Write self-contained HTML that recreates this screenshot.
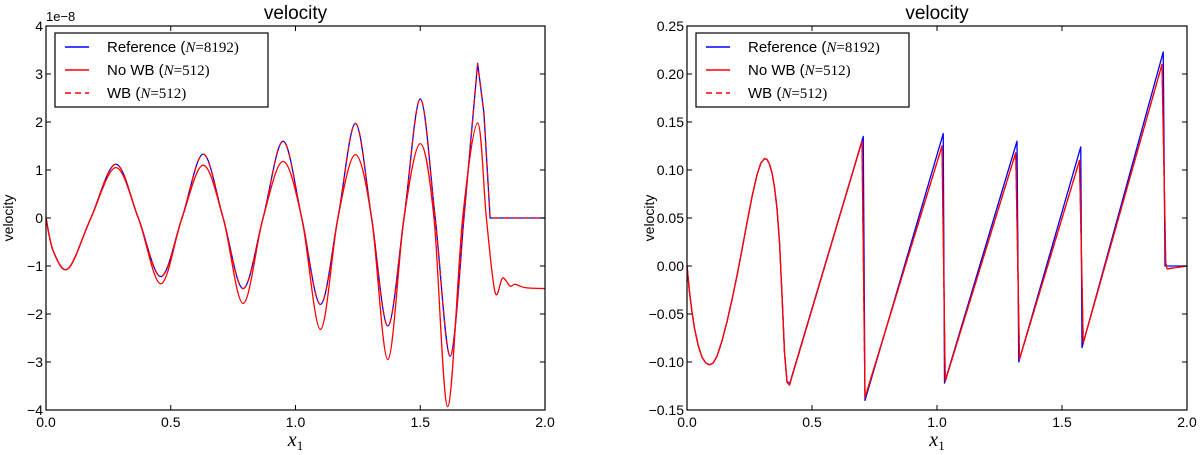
<!DOCTYPE html>
<html><head><meta charset="utf-8"><style>
body{margin:0;background:#fff}
svg{display:block;font-family:"Liberation Sans",sans-serif}
</style></head><body>
<svg id="c" width="1200" height="455"></svg>
<script>
// ---- data (left: 1e-8 units) ----
const leftRefX=[0,0.03,0.09,0.18,0.28,0.37,0.46,0.545,0.63,0.71,0.79,0.87,0.95,1.025,1.1,1.17,1.24,1.305,1.37,1.435,1.5,1.56,1.62,1.675,1.73,1.755,1.78,1.9,2.0];
const leftRefY=[0,-0.7,-1.05,0,1.12,0,-1.22,0,1.33,0,-1.47,0,1.6,0,-1.8,0,1.97,0,-2.25,0,2.48,0,-2.88,0,3.22,2.2,0,0,0];
const leftNoX=[0,0.03,0.09,0.18,0.28,0.37,0.46,0.545,0.63,0.71,0.79,0.87,0.95,1.025,1.1,1.17,1.24,1.305,1.37,1.435,1.5,1.555,1.61,1.67,1.73,1.765,1.8,1.83,1.86,1.88,1.92,2.0];
const leftNoY=[0,-0.7,-1.05,0,1.05,0,-1.37,0,1.1,0,-1.78,0,1.18,0,-2.32,0,1.32,0,-2.95,0,1.55,0,-3.93,0,1.98,0,-1.55,-1.25,-1.42,-1.38,-1.45,-1.47];
// ---- data (right) ----
const rightRefX=[0,0.01,0.02,0.03,0.045,0.06,0.075,0.09,0.105,0.12,0.14,0.16,0.18,0.2,0.22,0.24,0.26,0.28,0.295,0.31,0.32,0.33,0.34,0.35,0.36,0.37,0.38,0.39,0.40,0.41,0.705,0.712,1.025,1.03,1.32,1.327,1.575,1.58,1.905,1.912,1.92,2.0];
const rightRefY=[0,-0.027,-0.048,-0.065,-0.083,-0.095,-0.101,-0.103,-0.101,-0.094,-0.078,-0.058,-0.035,-0.01,0.017,0.045,0.072,0.095,0.107,0.112,0.111,0.106,0.097,0.082,0.06,0.025,-0.03,-0.09,-0.12,-0.123,0.135,-0.14,0.138,-0.122,0.13,-0.1,0.124,-0.085,0.223,0,0,0];
const rightNoX=[0,0.01,0.02,0.03,0.045,0.06,0.075,0.09,0.105,0.12,0.14,0.16,0.18,0.2,0.22,0.24,0.26,0.28,0.295,0.31,0.32,0.33,0.34,0.35,0.36,0.37,0.38,0.39,0.40,0.41,0.70,0.712,1.02,1.033,1.315,1.33,1.57,1.585,1.90,1.915,1.92,2.0];
const rightNoY=[0,-0.027,-0.048,-0.065,-0.083,-0.095,-0.101,-0.103,-0.101,-0.094,-0.078,-0.058,-0.035,-0.01,0.017,0.045,0.072,0.095,0.107,0.112,0.111,0.106,0.097,0.082,0.06,0.025,-0.03,-0.09,-0.121,-0.124,0.13,-0.137,0.125,-0.12,0.118,-0.097,0.11,-0.08,0.21,0.003,-0.003,0];
const xTicks=["0.0","0.5","1.0","1.5","2.0"];
const leftYTicks=["−4","−3","−2","−1","0","1","2","3","4"];
const rightYTicks=["−0.15","−0.10","−0.05","0.00","0.05","0.10","0.15","0.20","0.25"];

const svg=document.getElementById('c');const NS="http://www.w3.org/2000/svg";
function el(t,a,p){const e=document.createElementNS(NS,t);for(const k in a)e.setAttribute(k,a[k]);(p||svg).appendChild(e);return e;}
function splineSeg(pts){let d="";for(let i=0;i<pts.length-1;i++){const p0=pts[Math.max(0,i-1)],p1=pts[i],p2=pts[i+1],p3=pts[Math.min(pts.length-1,i+2)];
const c1=[p1[0]+(p2[0]-p0[0])/6,p1[1]+(p2[1]-p0[1])/6],c2=[p2[0]-(p3[0]-p1[0])/6,p2[1]-(p3[1]-p1[1])/6];d+=`C${c1[0]},${c1[1]} ${c2[0]},${c2[1]} ${p2[0]},${p2[1]}`;}return d;}
function path(pts,steep){let pieces=[[pts[0]]];
 for(let i=1;i<pts.length;i++){const a=pts[i-1],b=pts[i];const s=Math.abs(b[1]-a[1])/Math.max(0.01,Math.abs(b[0]-a[0]));
  if(s>steep){pieces.push([b]);}else pieces[pieces.length-1].push(b);}
 let d="M"+pts[0][0]+","+pts[0][1];
 pieces.forEach((pc,k)=>{if(k>0)d+="L"+pc[0][0]+","+pc[0][1];if(pc.length>1)d+=splineSeg(pc);});return d;}
function linePath(pts){return "M"+pts.map(p=>p[0]+","+p[1]).join("L");}

function panel(x0,x1,y0,y1,ymin,ymax,yt,series,prefix){
 const sx=v=>x0+(v/2)*(x1-x0), sy=v=>y1-(v-ymin)/(ymax-ymin)*(y1-y0);
 const g=el('g',{});
 
 series.forEach(s=>{const pts=s.x.map((v,i)=>[sx(v),sy(s.y[i])]);
  const p=el('path',{d:s.steep?path(pts,s.steep):linePath(pts),fill:'none',stroke:s.c,'stroke-width':1.3,'stroke-dasharray':s.dash||'none','stroke-linejoin':'round'},g);
  });
 el('rect',{x:x0,y:y0,width:x1-x0,height:y1-y0,fill:'none',stroke:'#000','stroke-width':1.2},g);
 xTicks.forEach((t,i)=>{const x=x0+i/4*(x1-x0);el('line',{x1:x,x2:x,y1:y1,y2:y1-5,stroke:'#000'},g);el('line',{x1:x,x2:x,y1:y0,y2:y0+5,stroke:'#000'},g);
  const tx=el('text',{x:x,y:y1+17,'font-size':14,'text-anchor':'middle'},g);tx.textContent=t;});
 yt.forEach((t,i)=>{const y=y1-i/(yt.length-1)*(y1-y0);el('line',{x1:x0,x2:x0+5,y1:y,y2:y,stroke:'#000'},g);el('line',{x1:x1,x2:x1-5,y1:y,y2:y,stroke:'#000'},g);
  const tx=el('text',{x:x0-3,y:y+5,'font-size':14,'text-anchor':'end'},g);tx.textContent=t;});
 const ti=el('text',{x:(x0+x1)/2,y:y0-7,'font-size':19,'text-anchor':'middle'},g);ti.textContent='velocity';
 
 const yl=el('text',{x:0,y:0,'font-size':14,'text-anchor':'middle',transform:`translate(${x0-33},${(y0+y1)/2}) rotate(-90)`},g);yl.textContent='velocity';
 
 const xl=el('text',{x:(x0+x1)/2,y:y1+36,'font-size':20,'font-style':'italic','font-family':'Liberation Serif,serif','text-anchor':'middle'},g);xl.innerHTML='x<tspan font-size="13" dy="4" font-style="normal">1</tspan>';
 
 const lg=el('g',{},g);
 const lx=x0+9,ly=y0+7;el('rect',{x:lx,y:ly,width:213,height:74,fill:'#fff',stroke:'#000','stroke-width':1.2},lg);
 const labs=[['Reference (','N','=8192)'],['No WB (','N','=512)'],['WB (','N','=512)']];
 series.forEach((s,i)=>{const y=ly+14+i*23;
  const e=el('g',{},lg);
  el('line',{x1:lx+10,x2:lx+34,y1:y,y2:y,stroke:s.c,'stroke-width':1.5,'stroke-dasharray':s.dash||'none'},e);
  const t=el('text',{x:lx+52,y:y+5,'font-size':15},e);
  t.innerHTML=labs[i][0]+'<tspan font-family="Liberation Serif,serif" font-style="italic">'+labs[i][1]+'</tspan><tspan font-family="Liberation Serif,serif">'+labs[i][2]+'</tspan>';});
}
panel(46,545,26,410,-4,4,leftYTicks,[{n:'reference-line',x:leftRefX,y:leftRefY,c:'#0000ff',steep:11},{n:'no-wb-line',x:leftNoX,y:leftNoY,c:'#ff0000',steep:100},{n:'wb-line',x:leftRefX,y:leftRefY,c:'#ff0000',dash:'6,4',steep:11}],'left');
const e8=el('text',{x:46,y:21,'font-size':13});e8.textContent='1e−8';

panel(687,1187,26,410,-0.15,0.25,rightYTicks,[{n:'reference-line',x:rightRefX,y:rightRefY,c:'#0000ff'},{n:'no-wb-line',x:rightNoX,y:rightNoY,c:'#ff0000'},{n:'wb-line',x:rightNoX,y:rightNoY,c:'#ff0000',dash:'6,4'}],'right');
</script>
</body></html>
